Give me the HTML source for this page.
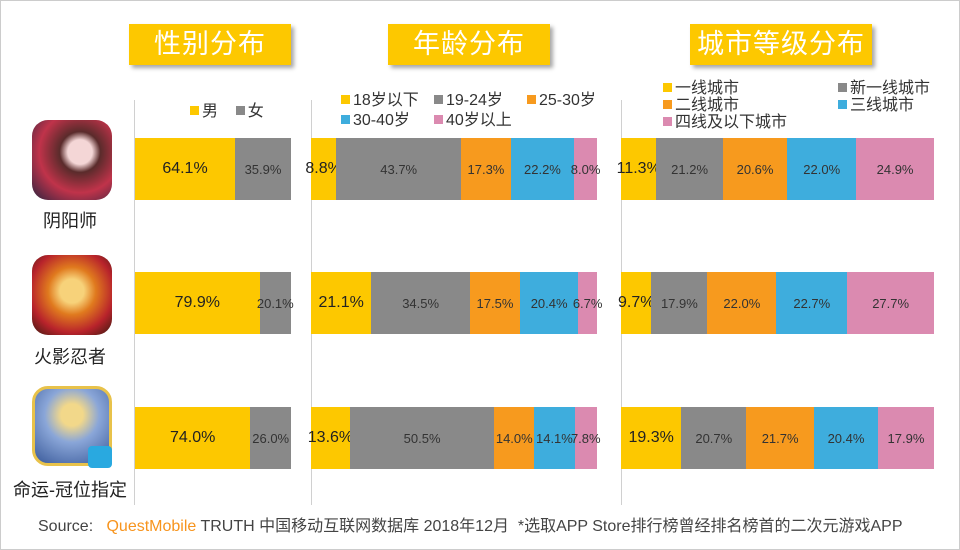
<!DOCTYPE html>
<html><head><meta charset="utf-8"><style>
*{margin:0;padding:0;box-sizing:border-box}
body{width:960px;height:550px;background:#fff;position:relative;overflow:hidden;font-family:"Liberation Sans","Noto Sans CJK SC",sans-serif;color:#222}
.frame{position:absolute;left:0;top:0;width:960px;height:550px;border:1px solid #ccc}
.title{position:absolute;top:24px;height:41px;background:#fdc800;color:#fff;font-size:27px;text-align:center;line-height:41px;box-shadow:3px 3px 4px rgba(0,0,0,.35);letter-spacing:1px}
.ax{position:absolute;top:100px;height:405px;width:1px;background:#d0d0d0}
.bar{position:absolute;height:62px;display:flex}
.bar div{height:100%;display:flex;align-items:center;justify-content:center;white-space:nowrap;font-size:13px;overflow:visible;color:#333}
.bar div.b{font-size:16px;color:#222}
.y{background:#fdc800}.g{background:#898989}.o{background:#f79a1e}.c{background:#3eaddd}.p{background:#db8ab0}
.lg{position:absolute;font-size:16px;color:#333;white-space:nowrap}
.sq{display:inline-block;width:9px;height:9px;margin-right:3px;vertical-align:1px}
.icon{position:absolute;left:32px;width:80px;height:80px;border-radius:16px}
.name{position:absolute;font-size:18px;color:#222;text-align:center;width:140px;left:0}
</style></head><body>
<div class="frame"></div>
<div class="title" style="left:129px;width:162px">性别分布</div>
<div class="title" style="left:388px;width:162px">年龄分布</div>
<div class="title" style="left:690px;width:182px">城市等级分布</div>

<div class="ax" style="left:134px"></div>
<div class="ax" style="left:311px"></div>
<div class="ax" style="left:621px"></div>

<div class="lg" style="left:190px;top:97px"><span class="sq y"></span>男 &nbsp; &nbsp;<span class="sq g"></span>女</div>
<div class="lg" style="left:341px;top:86px"><span class="sq y"></span>18岁以下</div>
<div class="lg" style="left:434px;top:86px"><span class="sq g"></span>19-24岁</div>
<div class="lg" style="left:527px;top:86px"><span class="sq o"></span>25-30岁</div>
<div class="lg" style="left:341px;top:106px"><span class="sq c"></span>30-40岁</div>
<div class="lg" style="left:434px;top:106px"><span class="sq p"></span>40岁以上</div>
<div class="lg" style="left:663px;top:74px"><span class="sq y"></span>一线城市</div>
<div class="lg" style="left:838px;top:74px"><span class="sq g"></span>新一线城市</div>
<div class="lg" style="left:663px;top:91px"><span class="sq o"></span>二线城市</div>
<div class="lg" style="left:838px;top:91px"><span class="sq c"></span>三线城市</div>
<div class="lg" style="left:663px;top:108px"><span class="sq p"></span>四线及以下城市</div>

<div class="icon" style="top:120px;background:radial-gradient(circle at 60% 40%,#f4d6d6 0 18%,#5a2b2b 30%,#c0334a 60%,#2a2440 100%)"></div>
<div class="icon" style="top:255px;background:radial-gradient(circle at 50% 45%,#f7d27a 0 20%,#e07a1e 40%,#b8232b 70%,#3a1a10 100%)"></div>
<div class="icon" style="top:386px;background:radial-gradient(circle at 50% 35%,#f2d88a 0 18%,#8aa6d8 45%,#3a5a9a 100%);border:3px solid #e8c24a"></div>
<div style="position:absolute;left:88px;top:446px;width:24px;height:22px;background:#29a9e0;border-radius:4px"></div>
<div class="name" style="top:207px">阴阳师</div>
<div class="name" style="top:343px">火影忍者</div>
<div class="name" style="top:476px">命运-冠位指定</div>

<div class="bar" style="left:135px;top:138px;width:156px"><div class="y b" style="width:100px">64.1%</div><div class="g" style="width:56px">35.9%</div></div>
<div class="bar" style="left:135px;top:272px;width:156px"><div class="y b" style="width:124.6px">79.9%</div><div class="g" style="width:31.4px">20.1%</div></div>
<div class="bar" style="left:135px;top:407px;width:156px"><div class="y b" style="width:115.4px">74.0%</div><div class="g" style="width:40.6px">26.0%</div></div>

<div class="bar" style="left:311px;top:138px;width:286px"><div class="y b" style="width:25.2px">8.8%</div><div class="g" style="width:125px">43.7%</div><div class="o" style="width:49.5px">17.3%</div><div class="c" style="width:63.5px">22.2%</div><div class="p" style="width:22.8px">8.0%</div></div>
<div class="bar" style="left:311px;top:272px;width:286px"><div class="y b" style="width:60.3px">21.1%</div><div class="g" style="width:98.7px">34.5%</div><div class="o" style="width:50px">17.5%</div><div class="c" style="width:58.3px">20.4%</div><div class="p" style="width:18.7px">6.7%</div></div>
<div class="bar" style="left:311px;top:407px;width:286px"><div class="y b" style="width:38.9px">13.6%</div><div class="g" style="width:144.4px">50.5%</div><div class="o" style="width:40px">14.0%</div><div class="c" style="width:40.3px">14.1%</div><div class="p" style="width:22.4px">7.8%</div></div>

<div class="bar" style="left:621px;top:138px;width:313px"><div class="y b" style="width:35.4px">11.3%</div><div class="g" style="width:66.4px">21.2%</div><div class="o" style="width:64.5px">20.6%</div><div class="c" style="width:68.9px">22.0%</div><div class="p" style="width:77.8px">24.9%</div></div>
<div class="bar" style="left:621px;top:272px;width:313px"><div class="y b" style="width:30.4px">9.7%</div><div class="g" style="width:56px">17.9%</div><div class="o" style="width:68.9px">22.0%</div><div class="c" style="width:71px">22.7%</div><div class="p" style="width:86.7px">27.7%</div></div>
<div class="bar" style="left:621px;top:407px;width:313px"><div class="y b" style="width:60.4px">19.3%</div><div class="g" style="width:64.8px">20.7%</div><div class="o" style="width:67.9px">21.7%</div><div class="c" style="width:63.9px">20.4%</div><div class="p" style="width:56px">17.9%</div></div>

<div style="position:absolute;left:38px;top:512px;font-size:16px;color:#444;white-space:nowrap">Source:&nbsp;&nbsp; <span style="color:#f7941d">QuestMobile</span> TRUTH 中国移动互联网数据库 2018年12月 &nbsp;*选取APP Store排行榜曾经排名榜首的二次元游戏APP</div>
</body></html>
